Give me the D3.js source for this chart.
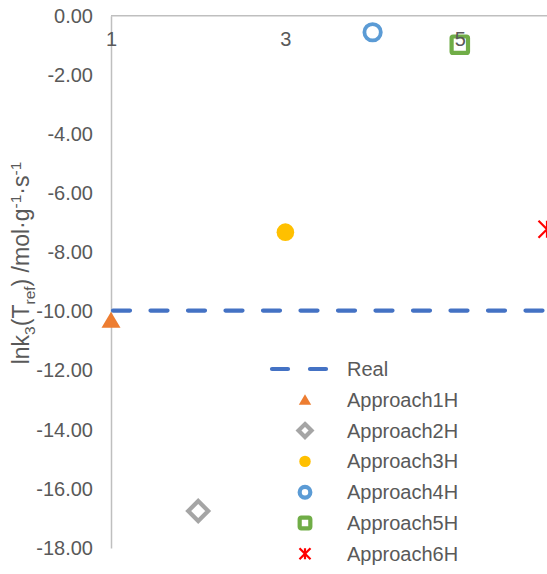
<!DOCTYPE html>
<html><head><meta charset="utf-8">
<script src="https://cdn.jsdelivr.net/npm/d3@7"></script>
<style>
body{margin:0;background:#fff;}
svg{display:block;font-family:"Liberation Sans",Arial,sans-serif;}
</style></head>
<body><svg id="c" width="547" height="574"></svg>
<script>
const seriesNames = ["Approach1H","Approach2H","Approach3H","Approach4H","Approach5H","Approach6H"];
const approachX = [1, 2, 3, 4, 5, 6];
const approachY = [-10.3, -16.75, -7.32, -0.56, -0.98, -7.22];
const realName = "Real";
const realX = [1, 6];
const realY = [-9.97, -9.97];
const yTicks = [0, -2, -4, -6, -8, -10, -12, -14, -16, -18];
const xTicks = [1, 3, 5];
const colors = ["#ED7D31","#A5A5A5","#FFC000","#5B9BD5","#70AD47","#FF0000"];
const realColor = "#4472C4";

const svg = d3.select("#c");
const x = d3.scaleLinear().domain([1, 6]).range([111, 547]);
const y = d3.scaleLinear().domain([0, -18]).range([15.7, 548]);
const textColor = "#595959", axisColor = "#BFBFBF";

// marker drawing
function marker(g, i, s, sw) {
  const c = colors[i];
  if (i === 0) {
    g.append("path").attr("d", `M0,${-s*0.85}L${s*0.95},${s*0.75}L${-s*0.95},${s*0.75}Z`).attr("fill", c);
  } else if (i === 1) {
    const r = s*1.0;
    g.append("path").attr("d", `M0,${-r}L${r},0L0,${r}L${-r},0Z`).attr("fill","#fff").attr("stroke",c).attr("stroke-width", sw || s*0.42);
  } else if (i === 2) {
    g.append("circle").attr("r", s*0.88).attr("fill", c);
  } else if (i === 3) {
    g.append("circle").attr("r", s*0.82).attr("fill","#fff").attr("stroke",c).attr("stroke-width", sw || s*0.38);
  } else if (i === 4) {
    const h = s*0.82;
    g.append("rect").attr("x",-h).attr("y",-h).attr("width",2*h).attr("height",2*h).attr("rx",1.5)
      .attr("fill","#fff").attr("stroke",c).attr("stroke-width", sw || s*0.42);
  } else {
    const h = s*0.85;
    g.append("path").attr("d", `M${-h},${-h}L${h},${h}M${-h},${h}L${h},${-h}M0,${-h}L0,${h}`)
      .attr("stroke", c).attr("stroke-width", 2.2).attr("fill","none");
  }
}

// axes lines
svg.append("line").attr("x1", x(1)).attr("x2", 547).attr("y1", y(0)).attr("y2", y(0))
  .attr("stroke", axisColor).attr("stroke-width", 1.5);

// y axis
const yAxis = d3.axisLeft(y).tickValues(yTicks).tickSize(0).tickPadding(18).tickFormat(d => d.toFixed(2));
const yg = svg.append("g").attr("transform", `translate(${x(1)},0)`).call(yAxis);
yg.select(".domain").attr("stroke", axisColor).attr("stroke-width", 1.5);
yg.selectAll("text").attr("fill", textColor).attr("font-size", "20px").attr("font-family", "Liberation Sans, Arial, sans-serif");

// real dashed line
svg.append("path").datum(realX.map((d, i) => [d, realY[i]]))
  .attr("d", d3.line().x(d => x(d[0])).y(d => y(d[1])))
  .attr("fill","none").attr("stroke", realColor).attr("stroke-width", 4.2)
  .attr("stroke-dasharray", "17 20.5").attr("stroke-linecap", "round")
  .attr("transform","translate(2,0)");

// points
approachX.forEach((xv, i) => {
  const g = svg.append("g").attr("transform", `translate(${x(xv)},${y(approachY[i])})`);
  marker(g, i, 10);
});

// x axis labels (drawn above markers)
const xAxis = d3.axisBottom(x).tickValues(xTicks).tickSize(0).tickPadding(16).tickFormat(d3.format("d"));
const xg = svg.append("g").attr("transform", `translate(0,${y(0)})`).call(xAxis);
xg.select(".domain").remove();
xg.selectAll("text").attr("fill", textColor).attr("font-size", "20px").attr("font-family", "Liberation Sans, Arial, sans-serif");

// y title
const title = svg.append("text").attr("transform", "translate(29,263) rotate(-90)")
  .attr("text-anchor","middle").attr("fill", textColor).attr("font-size","23px");
title.append("tspan").text("lnk");
title.append("tspan").attr("font-size","15.5px").attr("dy", 6).text("3");
title.append("tspan").attr("dy", -6).text("(T");
title.append("tspan").attr("font-size","15.5px").attr("dy", 6).text("ref");
title.append("tspan").attr("dy", -6).text(") /mol·g");
title.append("tspan").attr("font-size","15.5px").attr("dy", -8).text("-1");
title.append("tspan").attr("dy", 8).text("·s");
title.append("tspan").attr("font-size","15.5px").attr("dy", -8).text("-1");

// legend
const lx = 305, ly0 = 369, ldy = 30.8, ltx = 347;
const lg = svg.append("g");
lg.append("line").attr("x1", 272).attr("x2", 326).attr("y1", ly0).attr("y2", ly0)
  .attr("stroke", realColor).attr("stroke-width", 4.2).attr("stroke-dasharray", "16 22").attr("stroke-linecap","round");
lg.append("text").attr("x", ltx).attr("y", ly0).attr("dy","0.35em").attr("fill", textColor).attr("font-size","20px").text(realName);
seriesNames.forEach((n, i) => {
  const yy = ly0 + ldy*(i+1);
  const g = lg.append("g").attr("transform", `translate(${lx},${yy})`);
  marker(g, i, 6.5, 4.2);
  lg.append("text").attr("x", ltx).attr("y", yy).attr("dy","0.35em").attr("fill", textColor).attr("font-size","20px").text(n);
});
</script></body></html>
